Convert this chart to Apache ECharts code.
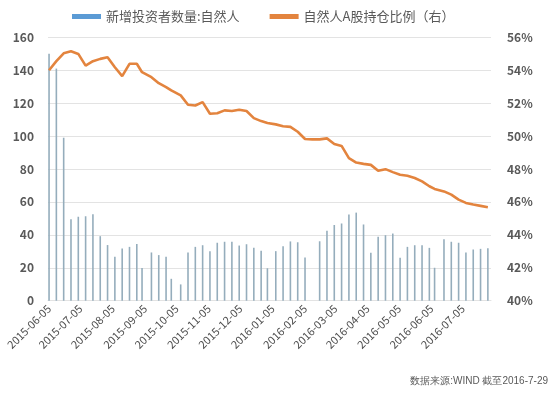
<!DOCTYPE html>
<html><head><meta charset="utf-8">
<script src="https://cdn.jsdelivr.net/npm/echarts@6/dist/echarts.min.js"></script>
<style>html,body{margin:0;padding:0;background:#fff}#c{width:553px;height:394px}</style>
</head><body><div id="c"></div>
<script>
const weekDates = ['2015-06-05','2015-06-12','2015-06-19','2015-06-26','2015-07-03','2015-07-10','2015-07-17','2015-07-24','2015-07-31','2015-08-07','2015-08-14','2015-08-21','2015-08-28','2015-09-02','2015-09-11','2015-09-18','2015-09-25','2015-09-30','2015-10-09','2015-10-16','2015-10-23','2015-10-30','2015-11-06','2015-11-13','2015-11-20','2015-11-27','2015-12-04','2015-12-11','2015-12-18','2015-12-25','2015-12-31','2016-01-08','2016-01-15','2016-01-22','2016-01-29','2016-02-05','2016-02-12','2016-02-19','2016-02-26','2016-03-04','2016-03-11','2016-03-18','2016-03-25','2016-04-01','2016-04-08','2016-04-15','2016-04-22','2016-04-29','2016-05-06','2016-05-13','2016-05-20','2016-05-27','2016-06-03','2016-06-08','2016-06-17','2016-06-24','2016-07-01','2016-07-08','2016-07-15','2016-07-22','2016-07-29'];
const newInvestors = [150,141,99,49.5,51,51.3,52.5,39.2,33.8,26.7,31.7,32.7,34.5,19.8,29.3,27.7,26.7,13.3,9.9,29.3,32.7,33.7,30.1,35.2,35.8,35.8,33.5,34.3,32.1,30.3,19.7,30.1,33,36,35.5,26.3,null,36.1,42.5,46,46.9,52.3,53.5,46.3,29.1,38.8,39.8,40.8,26.1,32.7,33.7,33.7,32.1,20,37.4,35.8,35.2,29.3,31.1,31.5,31.9];
const holdingRatio = [54.0,54.55,55.03,55.15,54.99,54.28,54.55,54.69,54.79,54.18,53.64,54.39,54.39,53.88,53.58,53.21,52.97,52.77,52.47,51.9,51.86,52.06,51.36,51.39,51.56,51.52,51.6,51.52,51.09,50.91,50.79,50.71,50.6,50.56,50.26,49.82,49.8,49.8,49.86,49.52,49.4,48.66,48.39,48.31,48.25,47.89,47.99,47.81,47.65,47.59,47.45,47.25,46.95,46.79,46.64,46.44,46.14,45.94,45.84,45.76,45.68];
const axisStart = '2015-06-04', axisEnd = '2016-08-01';
const seriesNames = ['新增投资者数量:自然人','自然人A股持仓比例（右）'];
const sourceText = '数据来源:WIND 截至2016-7-29';

function pad(n){return n<10?'0'+n:''+n;}
const days = [];
for (let d = new Date(axisStart+'T00:00:00Z'); d <= new Date(axisEnd+'T00:00:00Z'); d.setUTCDate(d.getUTCDate()+1)) {
  days.push(d.getUTCFullYear()+'-'+pad(d.getUTCMonth()+1)+'-'+pad(d.getUTCDate()));
}
const barData = weekDates.map((d,i)=>[d, newInvestors[i]==null?'-':newInvestors[i]]).filter(p=>p[1]!=='-');
const lineData = weekDates.map((d,i)=>[d, holdingRatio[i]]);
const font = '"Noto Sans CJK SC","Noto Sans",sans-serif';
const chart = echarts.init(document.getElementById('c'), null, {renderer:'canvas'});
chart.setOption({
  animation:false,
  textStyle:{fontFamily:font},
  legend:{
    top:5, left:67, itemGap:30, itemWidth:29, itemHeight:5,
    textStyle:{fontSize:13, color:'#595959', fontFamily:font},
    data:[{name:seriesNames[0], icon:'rect', itemStyle:{color:'#5b9bd5'}},{name:seriesNames[1], icon:'rect'}]
  },
  grid:{left:48, right:62, top:37.3, bottom:93.3},
  xAxis:{
    type:'category', data:days, boundaryGap:false,
    axisLine:{show:true, lineStyle:{color:'#e3e3e3'}},
    axisTick:{show:false},
    axisLabel:{
      rotate:45, fontSize:11, color:'#4d4d4d', margin:6, fontFamily:font,
      interval:(idx,val)=>val.slice(8)==='05' && val <= '2016-07-05'
    }
  },
  yAxis:[
    {type:'value', min:0, max:160, interval:20,
     axisLine:{show:false}, axisTick:{show:false},
     axisLabel:{fontSize:12, fontWeight:'bold', color:'#595959', margin:14},
     splitLine:{lineStyle:{color:'#e3e3e3'}}},
    {type:'value', min:40, max:56, interval:2,
     axisLine:{show:false}, axisTick:{show:false},
     axisLabel:{fontSize:12, fontWeight:'bold', color:'#595959', margin:16, formatter:v=>v+'%'},
     splitLine:{show:false}}
  ],
  series:[
    {name:seriesNames[0], type:'bar', data:barData, barWidth:1.6,
     itemStyle:{color:'#95adbc'}},
    {name:seriesNames[1], type:'line', yAxisIndex:1, data:lineData, showSymbol:false, symbol:'none',
     connectNulls:true, lineStyle:{color:'#e3843e', width:2.6}, itemStyle:{color:'#e3843e'}}
  ],
  graphic:[{type:'text', right:5, top:376, style:{text:sourceText, fontSize:10, fill:'#595959', font:'10px '+font}}]
});
</script></body></html>
